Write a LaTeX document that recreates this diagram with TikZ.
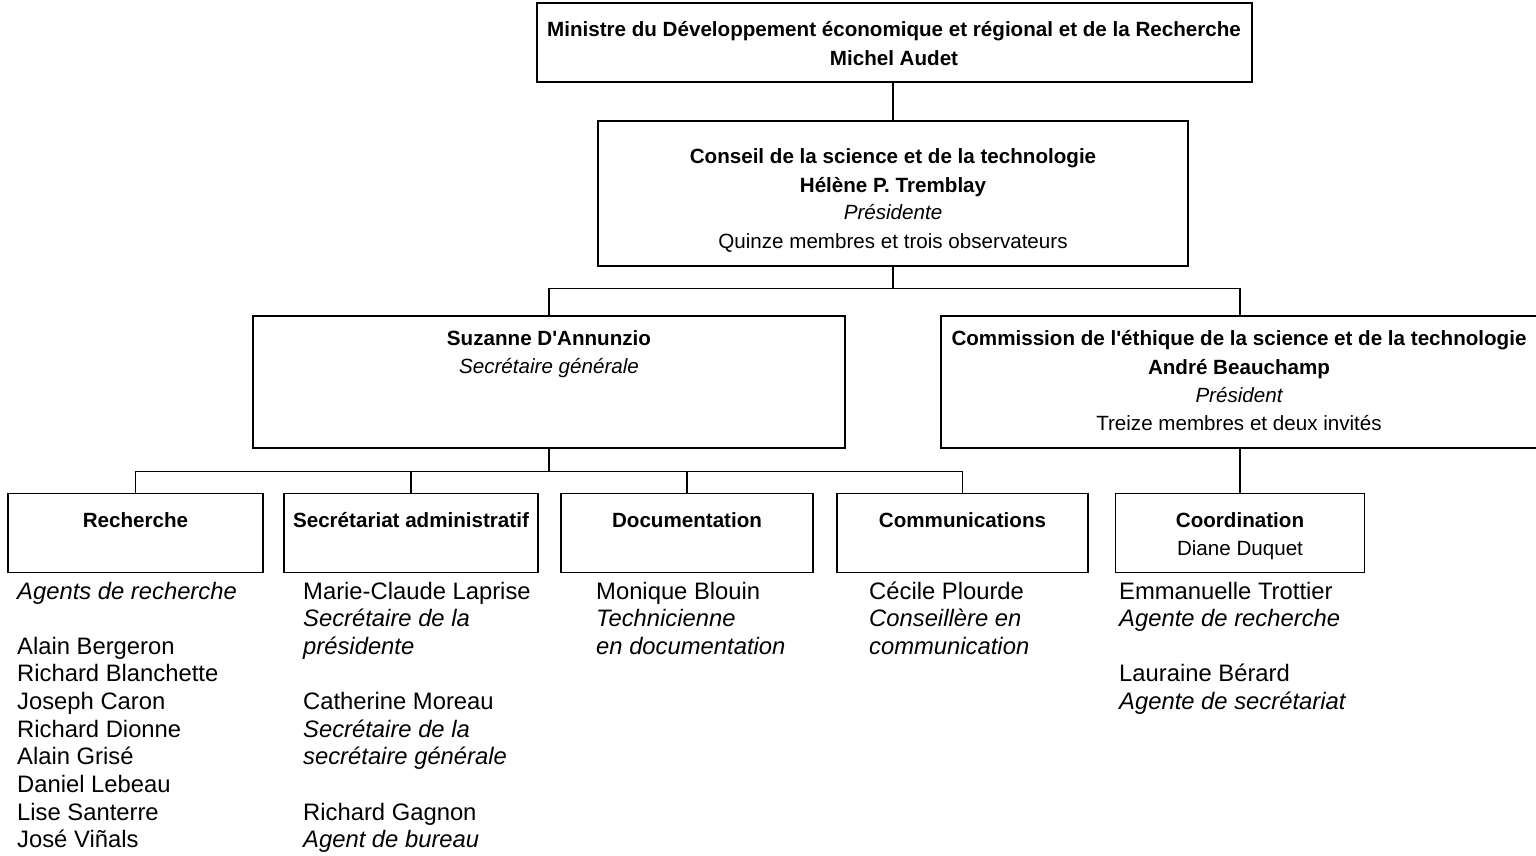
\documentclass[tikz,border=0pt]{standalone}
\usepackage{fontspec}
\setmainfont{Liberation Sans}[Ligatures=TeXOff]
\begin{document}
\begin{tikzpicture}[x=1pt,y=-1pt,
  box/.style={draw,line width=1.6pt,inner sep=0pt},
  conn/.style={line width=1.3pt},
  bt/.style={anchor=base,inner sep=0pt,font=\fontsize{20.6}{24}\selectfont\bfseries},
  rt/.style={anchor=base,inner sep=0pt,font=\fontsize{20.6}{24}\selectfont},
  it/.style={anchor=base,inner sep=0pt,font=\fontsize{20.6}{24}\selectfont\itshape},
  lt/.style={anchor=base west,inner sep=0pt,font=\fontsize{23.8}{27}\selectfont},
  li/.style={anchor=base west,inner sep=0pt,font=\fontsize{23.8}{27}\selectfont\itshape}
]
\useasboundingbox (0,0) rectangle (1536,856);

% boxes
\node[box,minimum width=715pt,minimum height=79pt] (min) at (894.5,42.5) {};
\node[box,minimum width=590pt,minimum height=145pt] (cons) at (893,193.5) {};
\node[box,minimum width=592pt,minimum height=132pt] (sg) at (549,382) {};
\node[box,minimum width=598pt,minimum height=132pt] (com) at (1240,382) {};
\node[box,minimum width=255pt,minimum height=79pt] (rech) at (135.5,533) {};
\node[box,minimum width=254pt,minimum height=79pt] (sec) at (411,533) {};
\node[box,minimum width=252pt,minimum height=79pt] (doc) at (687,533) {};
\node[box,minimum width=251pt,minimum height=79pt] (comm) at (962.5,533) {};
\node[box,minimum width=249pt,minimum height=79pt] (coord) at (1240,533) {};

% connectors
\draw[conn] (cons.north) -- (cons.north |- min.south);
\draw[conn] (cons.south) -- ++(0,22) coordinate (j1);
\draw[conn] (sg.north) |- (j1);
\draw[conn] (com.north) |- (j1);
\draw[conn] (sg.south) -- ++(0,23) coordinate (j2);
\draw[conn] (rech.north) |- (j2);
\draw[conn] (sec.north) |- (j2);
\draw[conn] (doc.north) |- (j2);
\draw[conn] (comm.north) |- (j2);
\draw[conn] (com.south) -- (coord.north);

% box texts
\node[bt] (t1) at (894,36.5) {Ministre du Développement économique et régional et de la Recherche};
\node[bt] (t2) at (894,65.5) {Michel Audet};
\node[bt] (t3) at (893,163.5) {Conseil de la science et de la technologie};
\node[bt] (t4) at (893,192.5) {Hélène P. Tremblay};
\node[it] (t5) at (893,219.5) {Présidente};
\node[rt] (t6) at (893,248.5) {Quinze membres et trois observateurs};
\node[bt] (t7) at (549,345.5) {Suzanne D'Annunzio};
\node[it] (t8) at (549,373.5) {Secrétaire générale};
\node[bt] (t9) at (1239,345.5) {Commission de l'éthique de la science et de la technologie};
\node[bt] (t10) at (1239,374.5) {André Beauchamp};
\node[it] (t11) at (1239,402.5) {Président};
\node[rt] (t12) at (1239,430.5) {Treize membres et deux invités};
\node[bt] (t13) at (135.5,527.5) {Recherche};
\node[bt] (t14) at (411,527.5) {Secrétariat administratif};
\node[bt] (t15) at (687,527.5) {Documentation};
\node[bt] (t16) at (962.5,527.5) {Communications};
\node[bt] (t17) at (1240,527.5) {Coordination};
\node[rt] (t18) at (1240,555.5) {Diane Duquet};

% lists
\def\bl{599}
\def\st{27.65}
\node[li] (a0) at (17,\bl) {Agents de recherche};
\foreach \n [count=\i from 2] in {Alain Bergeron,Richard Blanchette,Joseph Caron,Richard Dionne,Alain Grisé,Daniel Lebeau,Lise Santerre,José Viñals}
  \node[lt] (a\i) at (17,\bl+\st*\i) {\n};

\node[lt] (b0) at (303,\bl) {Marie-Claude Laprise};
\node[li] (b1) at (303,\bl+\st) {Secrétaire de la};
\node[li] (b2) at (303,\bl+2*\st) {présidente};
\node[lt] (b4) at (303,\bl+4*\st) {Catherine Moreau};
\node[li] (b5) at (303,\bl+5*\st) {Secrétaire de la};
\node[li] (b6) at (303,\bl+6*\st) {secrétaire générale};
\node[lt] (b8) at (303,\bl+8*\st) {Richard Gagnon};
\node[li] (b9) at (303,\bl+9*\st) {Agent de bureau};

\node[lt] (c0) at (596,\bl) {Monique Blouin};
\node[li] (c1) at (596,\bl+\st) {Technicienne};
\node[li] (c2) at (596,\bl+2*\st) {en documentation};

\node[lt] (d0) at (869,\bl) {Cécile Plourde};
\node[li] (d1) at (869,\bl+\st) {Conseillère en};
\node[li] (d2) at (869,\bl+2*\st) {communication};

\node[lt] (e0) at (1119,\bl) {Emmanuelle Trottier};
\node[li] (e1) at (1119,\bl+\st) {Agente de recherche};
\node[lt] (e3) at (1119,\bl+3*\st) {Lauraine Bérard};
\node[li] (e4) at (1119,\bl+4*\st) {Agente de secrétariat};
\end{tikzpicture}
\end{document}
